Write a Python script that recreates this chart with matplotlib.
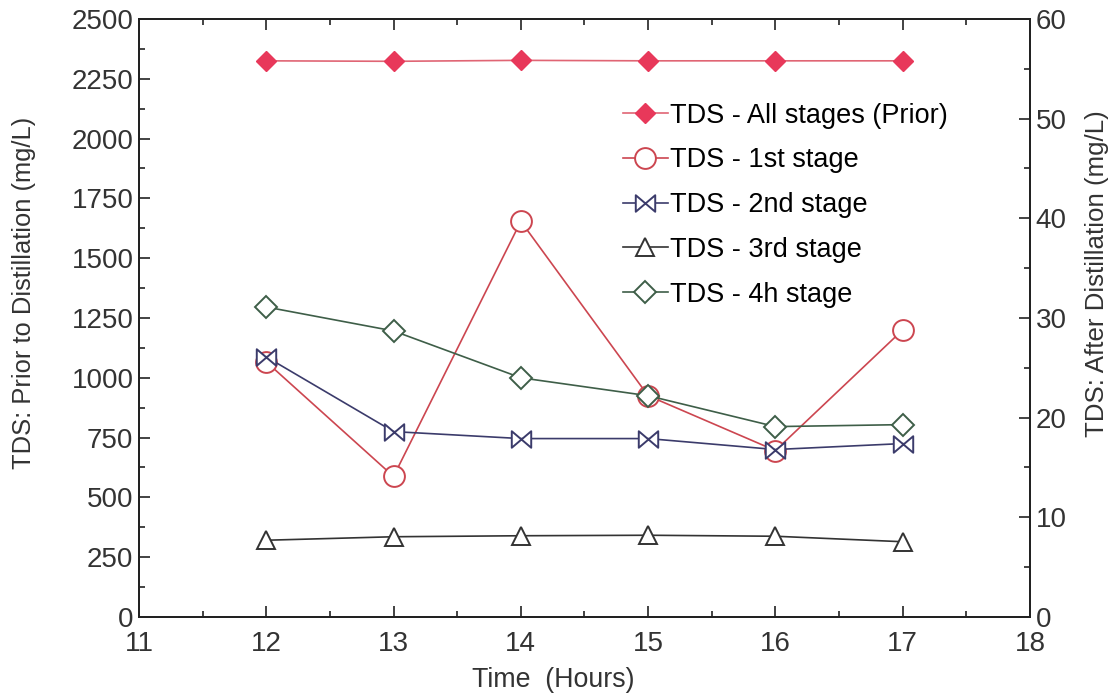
import matplotlib
matplotlib.use("Agg")
import matplotlib.pyplot as plt
from matplotlib.path import Path
from matplotlib.ticker import MultipleLocator

plt.rcParams['font.family'] = ['Liberation Sans', 'DejaVu Sans']

hours = [12, 13, 14, 15, 16, 17]
tds_prior = [2325, 2323, 2327, 2325, 2325, 2325]
tds_stage1 = [25.6, 14.1, 39.7, 22.2, 16.7, 28.8]
tds_stage2 = [26.1, 18.6, 17.9, 17.9, 16.8, 17.4]
tds_stage3 = [7.7, 8.05, 8.15, 8.2, 8.1, 7.55]
tds_stage4 = [31.1, 28.7, 24.0, 22.2, 19.1, 19.3]

# hourglass lying on its side, like the Origin "bowtie" symbol
bowtie = Path([(-1, -0.85), (1, 0.85), (1, -0.85), (-1, 0.85), (-1, -0.85)],
              [Path.MOVETO, Path.LINETO, Path.LINETO, Path.LINETO, Path.CLOSEPOLY])

fig = plt.figure(figsize=(11.17, 7), dpi=100)
ax = fig.add_axes([0.1244, 0.1186, 0.7977, 0.8543])
ax2 = ax.twinx()

l0, = ax.plot(hours, tds_prior, color='#e06574', lw=1.2, marker='D', ms=10,
              mfc='#e8385a', mec='#e8385a', label='TDS - All stages (Prior)')
l1, = ax2.plot(hours, tds_stage1, color='#cc4650', lw=1.2, marker='o', ms=15,
               mfc='white', mec='#cc4650', mew=1.4, label='TDS - 1st stage')
l2, = ax2.plot(hours, tds_stage2, color='#3b3b6b', lw=1.2, marker=bowtie, ms=14,
               mfc='white', mec='#3b3b6b', mew=1.4, label='TDS - 2nd stage')
l3, = ax2.plot(hours, tds_stage3, color='#333333', lw=1.2, marker='^', ms=13,
               mfc='white', mec='#333333', mew=1.4, label='TDS - 3rd stage')
l4, = ax2.plot(hours, tds_stage4, color='#3e5e48', lw=1.2, marker='D', ms=11.5,
               mfc='white', mec='#3e5e48', mew=1.4, label='TDS - 4h stage')

ax.set_xlim(11, 18)
ax.set_ylim(0, 2500)
ax2.set_ylim(0, 60)
ax.xaxis.set_major_locator(MultipleLocator(1))
ax.xaxis.set_minor_locator(MultipleLocator(0.5))
ax.yaxis.set_major_locator(MultipleLocator(250))
ax.yaxis.set_minor_locator(MultipleLocator(125))
ax2.yaxis.set_major_locator(MultipleLocator(10))
ax2.yaxis.set_minor_locator(MultipleLocator(5))

ax.tick_params(which='both', direction='in', top=True, right=False,
               width=1.2, colors='#222222', labelcolor='#333333', labelsize=20)
ax.tick_params(axis='x', pad=10)
ax.tick_params(axis='y', pad=4)
ax.tick_params(which='major', length=8)
ax.tick_params(which='minor', length=4)
ax2.tick_params(which='both', direction='in', width=1.2, colors='#222222',
                labelcolor='#333333', labelsize=20, pad=4)
ax2.tick_params(which='major', length=8)
ax2.tick_params(which='minor', length=4)
for a in (ax, ax2):
    for s in a.spines.values():
        s.set_linewidth(1.4)
        s.set_color('#222222')

# axis titles placed in figure pixels to follow the original layout
W, H = 1117, 700
fig.text(553 / W, 1 - 680 / H, 'Time  (Hours)', fontsize=19.3, color='#333333',
         ha='center', va='center')
fig.text(24 / W, 1 - 293 / H, 'TDS: Prior to Distillation (mg/L)', fontsize=18.4,
         color='#333333', ha='center', va='center', rotation=90)
fig.text(1097 / W, 1 - 274 / H, 'TDS: After Distillation (mg/L)', fontsize=18.6,
         color='#333333', ha='center', va='center', rotation=90)

ax2.legend(handles=[l0, l1, l2, l3, l4], loc='upper left', bbox_to_anchor=(0.531, 0.878),
           frameon=False, fontsize=19.5, handlelength=1.65, handletextpad=0.1,
           labelspacing=0.69, borderaxespad=0)

fig.savefig('out.png', dpi=100)
